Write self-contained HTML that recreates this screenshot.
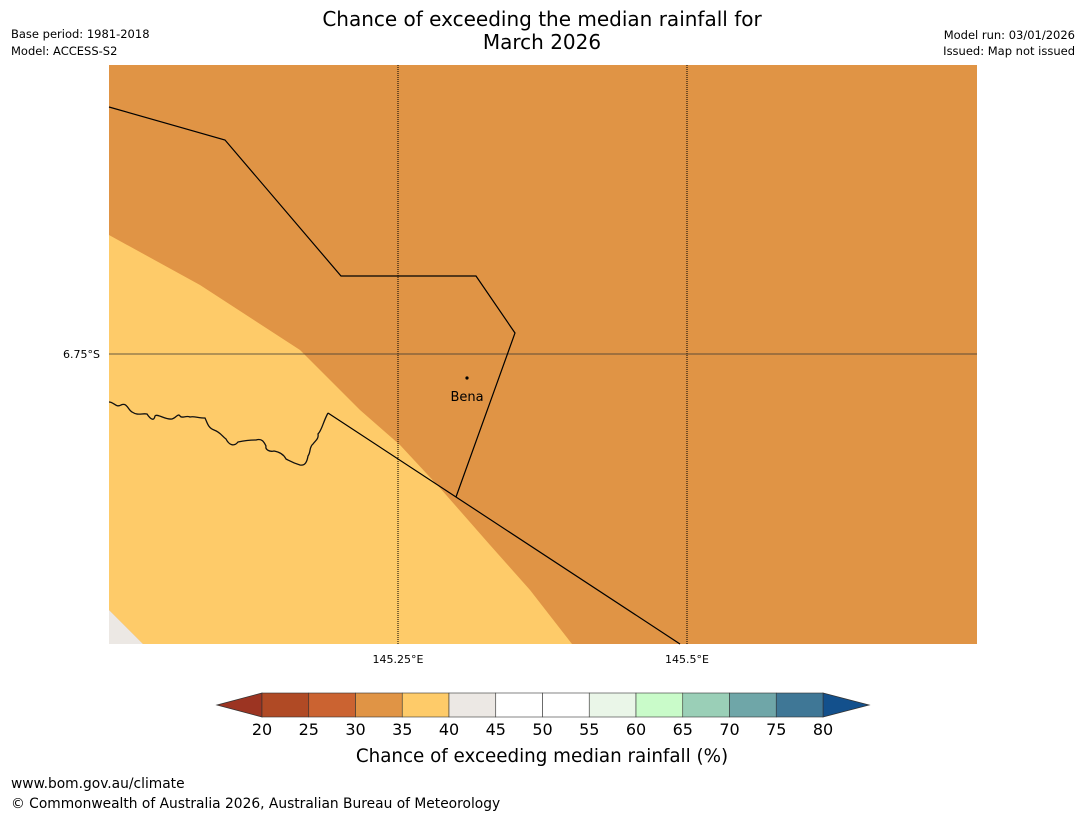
<!DOCTYPE html>
<html><head><meta charset="utf-8"><style>
body{margin:0;background:#fff;width:1085px;height:816px;overflow:hidden;font-family:"Liberation Sans","DejaVu Sans",sans-serif}
svg{position:absolute;left:0;top:0}
</style></head><body>
<svg width="1085" height="816" font-family="DejaVu Sans, Liberation Sans, sans-serif">
<text x="542" y="26" text-anchor="middle" font-size="20">Chance of exceeding the median rainfall for</text>
<text x="542" y="49" text-anchor="middle" font-size="20">March 2026</text>
<text x="11" y="38" font-size="11.5">Base period: 1981-2018</text>
<text x="11" y="55" font-size="11.5">Model: ACCESS-S2</text>
<text x="1075" y="39" font-size="11.5" text-anchor="end">Model run: 03/01/2026</text>
<text x="1075" y="55" font-size="11.5" text-anchor="end">Issued: Map not issued</text>
<g>
<rect x="109" y="65" width="868" height="579" fill="#E09445"/>
<polygon points="109,235 200,285 300,350 360,410 400,445 440,488 490,545 530,590 572,644 143,644 109,610" fill="#FECB69"/>
<polygon points="109,610 143,644 109,644" fill="#ECE8E4"/>
<line x1="398" y1="65" x2="398" y2="644" stroke="#000" stroke-width="1" stroke-dasharray="1,1"/>
<line x1="687" y1="65" x2="687" y2="644" stroke="#000" stroke-width="1" stroke-dasharray="1,1"/>
<line x1="109" y1="354" x2="977" y2="354" stroke="#333" stroke-width="0.8"/>
<polyline points="109,107 225,140 341,276 476,276 515,333 456,497" fill="none" stroke="#000" stroke-width="1.2"/>
<polyline points="328,413 680,644" fill="none" stroke="#000" stroke-width="1.2"/>
<path d="M109,402 C114,402 116,408 121,405 C127,402 128,410 132,412 C138,416 142,413 147,414 C151,420 154,421 155,416 C157,413 165,420 172,419 C176,418 178,413 180,416 C182,419 186,415 190,417 C194,416 198,418 205,418 C207,422 208,428 214,430 C220,432 222,436 226,439 C229,445 234,447 238,442 C243,441 250,440 256,440 C262,438 264,442 266,446 C265,450 270,452 274,451 C280,452 284,455 286,459 C290,461 293,463 300,465 C305,466 307,462 308,456 C311,452 309,447 313,444 C315,441 319,439 318,434 C322,430 323,422 328,413" fill="none" stroke="#111" stroke-width="1.3"/>
<circle cx="467" cy="378" r="1.6" fill="#000"/>
<text x="467" y="401" font-size="13" text-anchor="middle">Bena</text>
</g>
<text x="100" y="358" font-size="11" text-anchor="end">6.75°S</text>
<text x="398" y="663" font-size="11" text-anchor="middle">145.25°E</text>
<text x="687" y="663" font-size="11" text-anchor="middle">145.5°E</text>
<g id="cbar"></g>
<text x="542" y="762" font-size="18.3" text-anchor="middle">Chance of exceeding median rainfall (%)</text>
<text x="11" y="788" font-size="13.8">www.bom.gov.au/climate</text>
<text x="11" y="808" font-size="13.8">© Commonwealth of Australia 2026, Australian Bureau of Meteorology</text>
</svg>
<script>
const tickValues=[20,25,30,35,40,45,50,55,60,65,70,75,80];
const binColors=["#B04A25","#CB6331","#E09445","#FECB69","#ECE8E4","#FFFFFF","#FFFFFF","#EAF6E8","#C9FBC9","#9ACFB7","#6FA6A8","#3F7796"];
const underColor="#9C3422", overColor="#13508C";
const ns="http://www.w3.org/2000/svg";
const g=document.getElementById('cbar');
const x0=262,x1=823,y0=693,y1=717;
const sx=v=>x0+(v-tickValues[0])/(tickValues[tickValues.length-1]-tickValues[0])*(x1-x0);
function mk(t,a){const e=document.createElementNS(ns,t);for(const k in a)e.setAttribute(k,a[k]);g.appendChild(e);return e;}
let tri=mk('polygon',{points:`${x0},${y0} 217,${(y0+y1)/2} ${x0},${y1}`,fill:underColor,stroke:'#333','stroke-width':0.8});


tri=mk('polygon',{points:`${x1},${y0} 869,${(y0+y1)/2} ${x1},${y1}`,fill:overColor,stroke:'#333','stroke-width':0.8});


binColors.forEach((c,i)=>{
 const a=sx(tickValues[i]),b=sx(tickValues[i+1]);
 const r=mk('rect',{x:a,y:y0,width:b-a,height:y1-y0,fill:c,stroke:'#333','stroke-width':0.6});
 
 
});
tickValues.forEach(v=>{
 const t=mk('text',{x:sx(v),y:735,'font-size':16,'text-anchor':'middle'});
 t.textContent=v;
 
 
});
</script>
</body></html>
